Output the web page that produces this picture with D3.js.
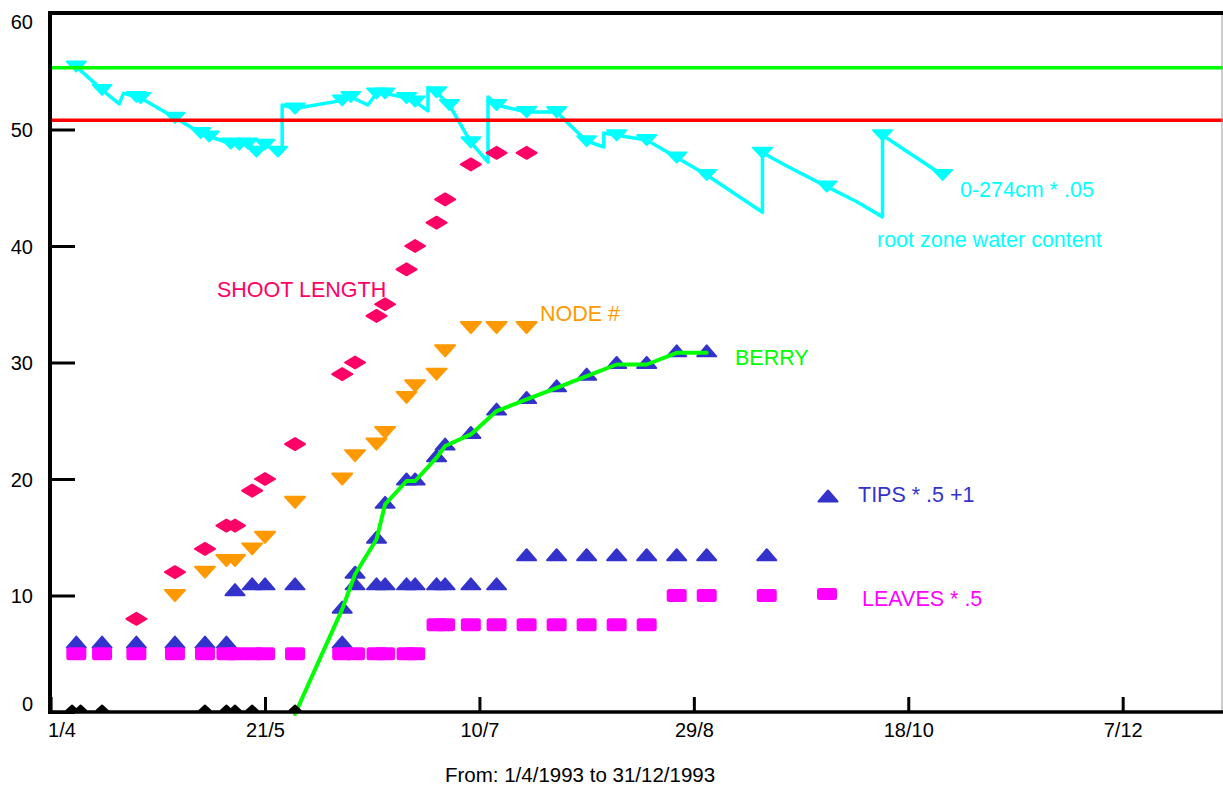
<!DOCTYPE html>
<html><head><meta charset="utf-8">
<script src="https://cdn.jsdelivr.net/npm/d3@7"></script>
<style>
body{margin:0;background:#fff;}
svg text{font-family:"Liberation Sans",Arial,sans-serif;}
</style>
</head><body>
<svg id="chart" width="1223" height="785"></svg>
<script>
// ---------------- DATA ----------------
const xTickLabels = ["1/4","21/5","10/7","29/8","18/10","7/12"];
const yTickValues = [0,10,20,30,40,50,60];

const sampleDates = ["7/4","13/4","21/4","30/4","7/5","12/5","14/5","18/5","21/5","28/5","8/6","11/6","16/6","18/6","23/6","25/6","30/6","2/7","8/7","14/7","21/7","28/7","4/8","11/8","18/8","25/8","1/9","15/9"];
const tipsValues   = [6,6,6,6,6,6,10.5,11,11,11,6,11,11,11,11,11,11,11,11,11,13.5,13.5,13.5,13.5,13.5,13.5,13.5,13.5];
const leavesValues = [5,5,5,5,5,5,5,5,5,5,5,5,5,5,5,5,7.5,7.5,7.5,7.5,7.5,7.5,7.5,7.5,7.5,10,10,10];

const shootDates  = ["21/4","30/4","7/5","12/5","14/5","18/5","21/5","28/5","8/6","11/6","16/6","18/6","23/6","25/6","30/6","2/7","8/7","14/7","21/7"];
const shootValues = [8,12,14,16,16,19,20,23,29,30,34,35,38,40,42,44,47,48,48];

const nodeDates  = ["30/4","7/5","12/5","14/5","18/5","21/5","28/5","8/6","11/6","16/6","18/6","23/6","25/6","30/6","2/7","8/7","14/7","21/7"];
const nodeValues = [10,12,13,13,14,15,18,20,22,23,24,27,28,29,31,33,33,33];

const berryDates  = ["28/5","8/6","11/6","16/6","18/6","23/6","25/6","30/6","2/7","8/7","14/7","21/7","28/7","4/8","11/8","18/8","25/8","1/9"];
const berryValues = [0,9,12,15,18,20,20,22,23,24,26,27,28,29,30,30,31,31];

const zeroDates  = ["6/4","8/4","13/4","7/5","12/5","14/5","18/5","28/5"];
const zeroValues = [0,0,0,0,0,0,0,0];

const waterDates  = ["7/4","13/4","17/4","18/4","21/4","22/4","30/4","6/5","8/5","13/5","15/5","17/5","19/5","21/5","24/5","25/5","25/5","28/5","8/6","10/6","14/6","16/6","18/6","23/6","25/6","28/6","28/6","30/6","3/7","8/7","12/7","12/7","14/7","21/7","28/7","4/8","8/8","8/8","11/8","18/8","25/8","1/9","14/9","14/9","20/9","29/9","6/10","12/10","12/10","26/10"];
const waterValues = [55.4,53.4,52.2,53.1,52.8,52.7,51.0,49.7,49.4,48.8,48.7,48.8,48.1,48.7,48.1,48.2,52.1,51.8,52.5,52.8,52.1,53.1,53.1,52.7,52.4,51.6,53.6,53.2,52.1,48.9,47.2,52.8,52.1,51.5,51.5,49.0,48.5,49.7,49.5,49.1,47.6,46.1,42.9,48.0,46.8,45.1,43.8,42.5,49.5,46.1];
const waterMarker = [1,1,0,0,1,1,1,1,1,1,1,1,1,1,1,0,0,1,1,1,0,1,1,1,1,0,0,1,1,1,0,0,1,1,1,1,0,0,1,1,1,1,0,1,0,1,0,0,1,1];

const upperLimit = 55.3;
const lowerLimit = 50.8;

const labels = {
  shoot: "SHOOT LENGTH", node: "NODE #", berry: "BERRY",
  tips: "TIPS * .5 +1", leaves: "LEAVES * .5",
  water1: "0-274cm *  .05", water2: "root zone water content",
  footer: "From: 1/4/1993 to 31/12/1993"
};

// ---------------- COLORS ----------------
const C = {cyan:"#00ffff", green:"#00ff00", red:"#ff0000", shoot:"#ff0066",
           node:"#ff9900", blue:"#3333cc", leaves:"#ff00ff", black:"#000"};

// ---------------- SETUP ----------------
const parse = s => d3.timeParse("%d/%m/%Y")(s + "/1993");
const svg = d3.select("#chart");
svg.append("rect").attr("width",1223).attr("height",785).attr("fill","#fff");

const x = d3.scaleTime().domain([parse("1/4"), parse("31/12")]).range([50.6, 1225.6]);
const y = d3.scaleLinear().domain([0,60]).range([712, 13]);

const zip = (ds, vs) => ds.map((d,i)=>({date:parse(d), v:vs[i]}));

function triUp(w,h){return `M0,${-h/2}L${w/2},${h/2}L${-w/2},${h/2}Z`;}
function triDown(w,h){return `M0,${h/2}L${w/2},${-h/2}L${-w/2},${-h/2}Z`;}
function diamond(w,h){return `M0,${-h/2}L${w/2},0L0,${h/2}L${-w/2},0Z`;}

function markers(data, path, color, sw, dy){
  svg.append("g").selectAll("path").data(data).join("path")
    .attr("d", path)
    .attr("transform", d=>`translate(${x(d.date)},${y(d.v)+(dy||0)})`)
    .attr("fill", color).attr("stroke", color)
    .attr("stroke-width", sw).attr("stroke-linejoin","round");
}

// ---------------- WATER LINE ----------------
const water = zip(waterDates, waterValues).map((d,i)=>({...d, m:waterMarker[i]}));
svg.append("path").datum(water)
  .attr("d", d3.line().x(d=>x(d.date)).y(d=>y(d.v)))
  .attr("fill","none").attr("stroke",C.cyan).attr("stroke-width",3.5)
  .attr("stroke-linejoin","round").attr("stroke-linecap","round");
markers(water.filter(d=>d.m), triDown(19,10), C.cyan, 2);

// ---------------- LIMIT LINES ----------------
[[upperLimit,C.green],[lowerLimit,C.red]].forEach(([v,c])=>{
  svg.append("line").attr("x1",50).attr("x2",1223).attr("y1",y(v)).attr("y2",y(v))
    .attr("stroke",c).attr("stroke-width",3.5);
});

// ---------------- SCATTER SERIES ----------------
markers(zip(shootDates, shootValues), diamond(20,12), C.shoot, 2);
markers(zip(nodeDates, nodeValues), triDown(20,11), C.node, 2);
markers(zip(sampleDates, tipsValues), triUp(19,11), C.blue, 2);

svg.append("g").selectAll("rect").data(zip(sampleDates, leavesValues)).join("rect")
  .attr("x", d=>x(d.date)-10).attr("y", d=>y(d.v)-6.5)
  .attr("width",20).attr("height",13).attr("rx",2.5)
  .attr("fill", C.leaves);

const berry = zip(berryDates, berryValues);
markers(berry.filter(d=>d.v>0), triUp(19,11), C.blue, 2);
svg.append("path").datum(berry)
  .attr("d", d3.line().x(d=>x(d.date)).y(d=>y(d.v)+2))
  .attr("fill","none").attr("stroke",C.green).attr("stroke-width",4)
  .attr("stroke-linejoin","round").attr("stroke-linecap","round");

markers(zip(zeroDates, zeroValues), triUp(11,5), C.black, 2, -4);

// ---------------- AXES ----------------
const xAxis = d3.axisBottom(x)
  .tickValues(xTickLabels.map(parse))
  .tickFormat(d3.timeFormat("%-d/%-m"))
  .tickSize(-15).tickSizeOuter(0).tickPadding(11);
const gx = svg.append("g").attr("transform","translate(0,712)").call(xAxis);
gx.select(".domain").remove();
gx.selectAll(".tick line").attr("stroke","#000").attr("stroke-width",3);
gx.selectAll(".tick text").attr("font-size",20).attr("fill","#000")
  .attr("font-family","Liberation Sans, Arial, sans-serif");
gx.selectAll(".tick").filter((d,i)=>i===0).select("text").attr("text-anchor","start").attr("x",-3);

const yAxis = d3.axisLeft(y).tickValues(yTickValues).tickFormat(d3.format("d"))
  .tickSize(-25).tickSizeOuter(0).tickPadding(17);
const gy = svg.append("g").attr("transform","translate(50,0)").call(yAxis);
gy.select(".domain").remove();
gy.selectAll(".tick line").attr("stroke","#000").attr("stroke-width",3);
gy.selectAll(".tick text").attr("font-size",20).attr("fill","#000")
  .attr("font-family","Liberation Sans, Arial, sans-serif")
  .attr("dy", d=>{ const base = y(d)+7; const c = Math.max(28, Math.min(710, base)); return (c - y(d)) + "px"; });

// frame
svg.append("line").attr("x1",1222).attr("x2",1222).attr("y1",13).attr("y2",712).attr("stroke","#999").attr("stroke-width",1);
svg.append("line").attr("x1",48).attr("x2",1223).attr("y1",13).attr("y2",13).attr("stroke","#000").attr("stroke-width",4);
svg.append("line").attr("x1",48).attr("x2",1223).attr("y1",712).attr("y2",712).attr("stroke","#000").attr("stroke-width",3.5);
svg.append("line").attr("x1",50).attr("x2",50).attr("y1",11).attr("y2",714).attr("stroke","#000").attr("stroke-width",4);

// ---------------- LABELS ----------------
function label(txt, px, py, color){
  svg.append("text").attr("x",px).attr("y",py).attr("fill",color)
    .attr("font-size",21.5).text(txt);
}
label(labels.shoot, 217, 297, C.shoot);
label(labels.node, 540, 321, C.node);
label(labels.berry, 735, 365, C.green);
label(labels.tips, 858, 502, C.blue);
label(labels.leaves, 862, 606, C.leaves);
label(labels.water1, 960, 197, C.cyan);
label(labels.water2, 877, 247, C.cyan);
svg.append("text").attr("x",445).attr("y",782).attr("fill","#000").attr("font-size",20.5).text(labels.footer);

// legend symbols
svg.append("path").attr("d",triUp(19,11)).attr("transform","translate(828,496)")
  .attr("fill",C.blue).attr("stroke",C.blue).attr("stroke-width",2).attr("stroke-linejoin","round");
svg.append("rect").attr("x",817).attr("y",588).attr("width",20).attr("height",12).attr("rx",2.5).attr("fill",C.leaves);
</script>
</body></html>
